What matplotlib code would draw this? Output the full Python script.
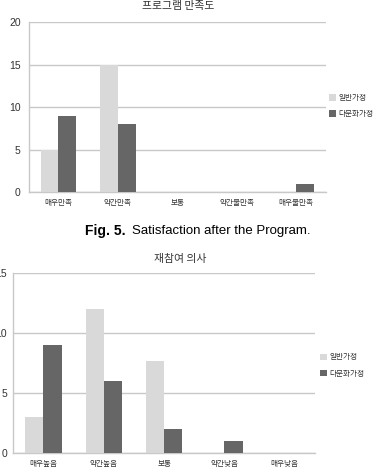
import matplotlib
matplotlib.use('Agg')
from matplotlib import pyplot as plt
import numpy as np

KR = ['Noto Sans CJK KR', 'DejaVu Sans']
NUM = ['Liberation Sans', 'DejaVu Sans']

# chart 1: satisfaction
sat_title = '프로그램 만족도'
sat_cats = ['매우만족', '약간만족', '보통', '약간불만족', '매우불만족']
sat_general = [5, 15, 0, 0, 0]
sat_multi = [9, 8, 0, 0, 1]

# chart 2: intention to participate again
rep_title = '재참여 의사'
rep_cats = ['매우높음', '약간높음', '보통', '약간낮음', '매우낮음']
rep_general = [3, 12, 7.7, 0, 0]
rep_multi = [9, 6, 2, 1, 0]

series_names = ['일반가정', '다문화가정']
light, dark = '#d9d9d9', '#666666'
grid_col = '#c8c8c8'

W, H = 379, 475
fig = plt.figure(figsize=(W / 100, H / 100), dpi=100)


def px_axes(x0, y0, x1, y1):
    return fig.add_axes([x0 / W, 1 - y1 / H, (x1 - x0) / W, (y1 - y0) / H])


def draw(ax, cats, gen, multi, ymax, ypad, legend_xy):
    x = np.arange(len(cats))
    w = 0.3
    b1 = ax.bar(x - w / 2, gen, w, color=light, label=series_names[0], zorder=3)
    b2 = ax.bar(x + w / 2, multi, w, color=dark, label=series_names[1], zorder=3)
    ax.set_xlim(-0.5, len(cats) - 0.5)
    ax.set_ylim(0, ymax)
    ax.set_yticks(np.arange(0, ymax + 1, 5))
    ax.yaxis.grid(True, color=grid_col, linewidth=1.0, zorder=0)
    ax.set_axisbelow(True)
    for s in ['top', 'right']:
        ax.spines[s].set_visible(False)
    for s in ['left', 'bottom']:
        ax.spines[s].set_color(grid_col)
        ax.spines[s].set_linewidth(1.0)
    ax.tick_params(length=0)
    ax.tick_params(axis='y', pad=ypad, labelsize=7.5, colors='#333333')
    ax.tick_params(axis='x', pad=5, colors='#333333')
    ax.set_xticks(x)
    ax.set_xticklabels(cats, family=KR, fontsize=5.5)
    for t in ax.get_yticklabels():
        t.set_family(NUM)
    leg = fig.legend([b1, b2], series_names, loc='upper left',
                     bbox_to_anchor=(legend_xy[0] / W, 1 - legend_xy[1] / H),
                     frameon=False, prop={'family': KR, 'size': 5.5},
                     handlelength=0.95, handleheight=0.95, handletextpad=0.3,
                     labelspacing=1.05, borderpad=0, borderaxespad=0)
    for t in leg.get_texts():
        t.set_color('#333333')


ax1 = px_axes(28.7, 22.3, 326, 192.3)
draw(ax1, sat_cats, sat_general, sat_multi, 20, 5.8, (329, 94))
fig.text(178 / W, 1 - 6.5 / H, sat_title, family=KR, fontsize=7.8,
         ha='center', va='center', color='#333333')

fig.text(85 / W, 1 - 231 / H, 'Fig. 5.', family=NUM, fontsize=10,
         fontweight='bold', ha='left', va='center')
fig.text(132.3 / W, 1 - 231 / H, 'Satisfaction after the Program.', family=NUM,
         fontsize=9.5, ha='left', va='center')

ax2 = px_axes(13.3, 273.3, 315, 452.7)
draw(ax2, rep_cats, rep_general, rep_multi, 15, 4.3, (320, 353.5))
fig.text(180 / W, 1 - 259 / H, rep_title, family=KR, fontsize=7.8,
         ha='center', va='center', color='#333333')

fig.savefig('out.png', dpi=100)
